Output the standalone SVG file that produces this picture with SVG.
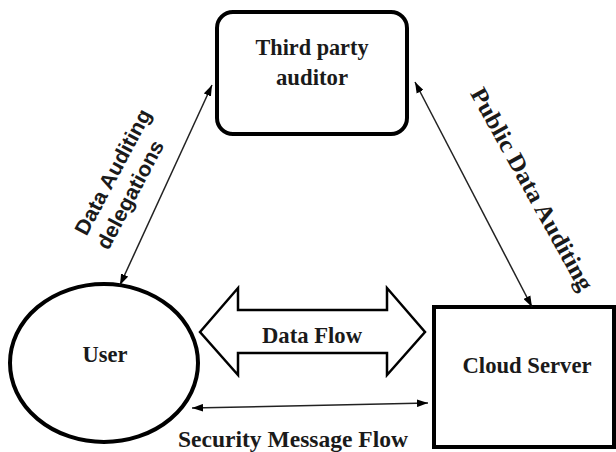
<svg xmlns="http://www.w3.org/2000/svg" width="616" height="452" viewBox="0 0 616 452">
<style>
.node{fill:#fff;stroke:#000;stroke-width:4}
.serif{font-family:"Liberation Serif","Times New Roman",serif;font-weight:bold;font-size:24px;fill:#1a1a1a}
.sans{font-family:"Liberation Sans",Arial,sans-serif;font-weight:bold;font-size:21px;fill:#1a1a1a}
.conn{fill:none;stroke:#222;stroke-width:1.5}
</style>
<defs>
<marker id="ah" viewBox="0 0 10 7" refX="10" refY="3.5" markerWidth="11" markerHeight="8" markerUnits="userSpaceOnUse" orient="auto-start-reverse">
<path d="M0,0 L10,3.5 L0,7 z" fill="#000"/>
</marker>
</defs>
<rect width="616" height="452" fill="#fff"/>
<g id="tpa">
<rect class="node" x="217" y="12" width="190" height="122" rx="16"/>
<text class="serif" x="312" y="55" text-anchor="middle" textLength="113" lengthAdjust="spacingAndGlyphs">Third party</text>
<text class="serif" x="312" y="85" text-anchor="middle" textLength="72" lengthAdjust="spacingAndGlyphs">auditor</text>
</g>
<g id="user">
<ellipse class="node" cx="104" cy="363" rx="94" ry="79" stroke-width="3.5"/>
<text class="serif" x="105" y="362" text-anchor="middle" textLength="45" lengthAdjust="spacingAndGlyphs">User</text>
</g>
<g id="cloud">
<rect class="node" x="434" y="307" width="180" height="140"/>
<text class="serif" x="527" y="373" text-anchor="middle" textLength="129" lengthAdjust="spacingAndGlyphs">Cloud Server</text>
</g>
<g id="connectors">
<line class="conn" x1="120" y1="285" x2="212" y2="85" marker-start="url(#ah)" marker-end="url(#ah)"/>
<line class="conn" x1="532" y1="307" x2="415" y2="82" marker-start="url(#ah)" marker-end="url(#ah)"/>
<line class="conn" x1="192" y1="408" x2="428" y2="403" marker-start="url(#ah)" marker-end="url(#ah)"/>
<polygon points="200,332 238,288 238,310 387,310 387,288 425,332 387,375 387,353 238,353 238,375" fill="#fff" stroke="#000" stroke-width="2.5" stroke-linejoin="miter"/>
<text class="serif" x="312" y="343" text-anchor="middle" textLength="100" lengthAdjust="spacingAndGlyphs">Data Flow</text>
<text class="serif" x="293" y="447" text-anchor="middle" textLength="230" lengthAdjust="spacingAndGlyphs">Security Message Flow</text>
<g transform="translate(113,172) rotate(-62)">
<text class="sans" x="0" y="7" text-anchor="middle" textLength="139" lengthAdjust="spacingAndGlyphs">Data Auditing</text>
<text class="sans" x="-12" y="33" text-anchor="middle" textLength="120" lengthAdjust="spacingAndGlyphs">delegations</text>
</g>
<g transform="translate(532,189) rotate(61)">
<text class="serif" x="0" y="8" text-anchor="middle" textLength="228" lengthAdjust="spacingAndGlyphs">Public Data Auditing</text>
</g>
</g>
</svg>
